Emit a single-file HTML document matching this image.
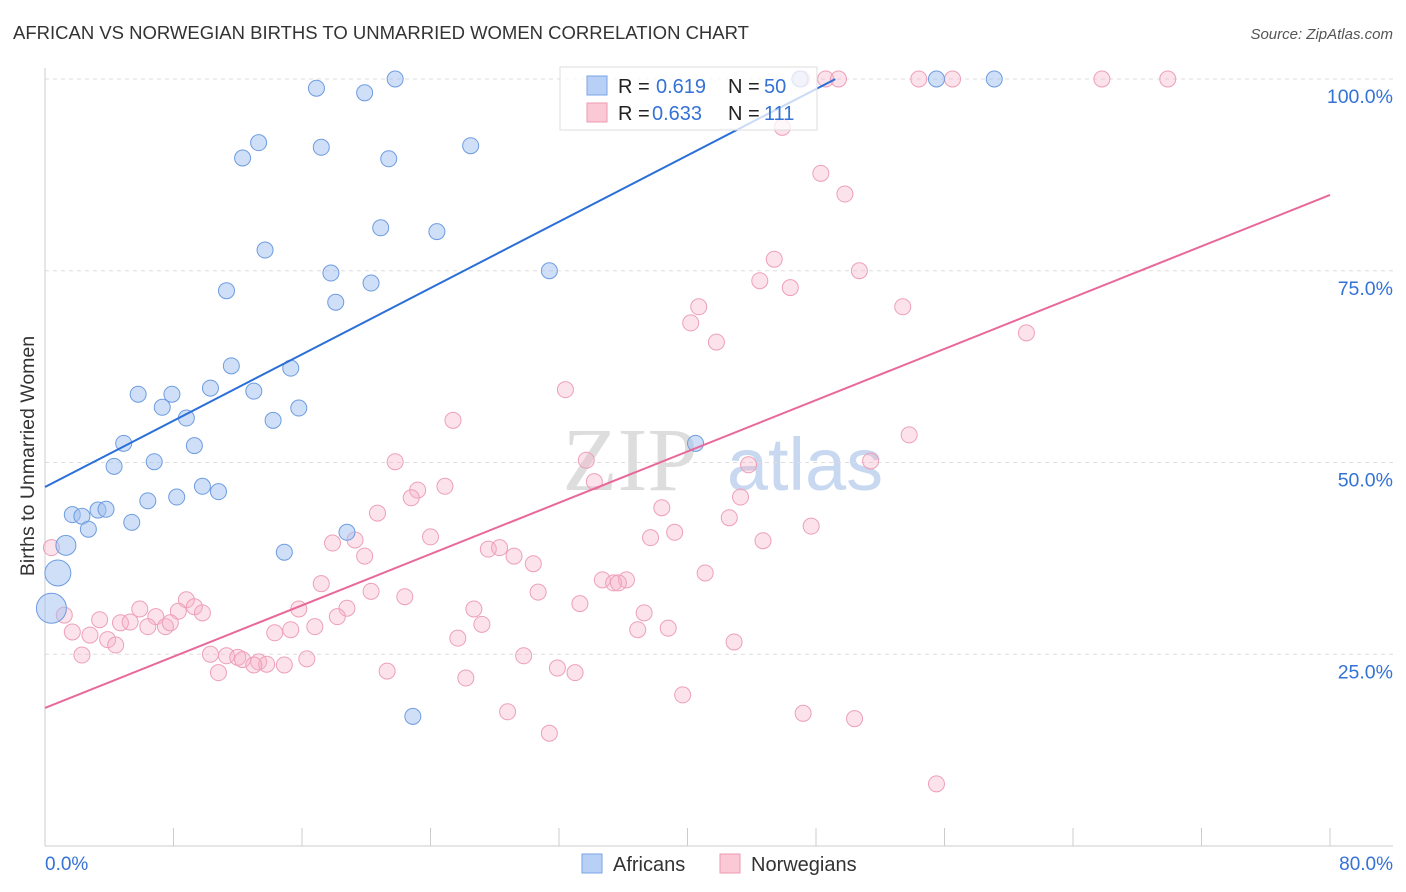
<!DOCTYPE html>
<html><head><meta charset="utf-8">
<style>
body{margin:0;background:#fff;font-family:"Liberation Sans",sans-serif;}
svg{display:block}
</style></head>
<body>
<svg id="chart" width="1406" height="892" xmlns="http://www.w3.org/2000/svg">
<text x="13" y="39" font-size="18.5" fill="#333" font-family="Liberation Sans, sans-serif">AFRICAN VS NORWEGIAN BIRTHS TO UNMARRIED WOMEN CORRELATION CHART</text>
<text x="1393" y="39" font-size="15" fill="#555" text-anchor="end" font-style="italic">Source: ZipAtlas.com</text>
<text transform="translate(34,456) rotate(-90)" font-size="19.5" fill="#333" text-anchor="middle">Births to Unmarried Women</text>
<g font-size="90" text-anchor="middle">
<text x="630" y="490" fill="#ddd" font-family="Liberation Serif, serif">ZIP</text>
<text x="805" y="490" fill="#c8d8f0" font-size="74">atlas</text>
</g>
<g id="grid"></g>
<g id="axes"></g>
<g id="marks"></g>
<g id="lines"></g>
<g>
<rect x="560" y="67" width="257" height="63" fill="#fff" fill-opacity="0.75" stroke="#ddd"/>
<rect x="587" y="76" width="20" height="19" fill="#b8d0f5" stroke="#7aa5e6"/>
<rect x="587" y="103" width="20" height="19" fill="#fbc8d6" stroke="#ee9ab2"/>
<text x="618" y="93" font-size="20" fill="#222">R = </text><text x="656" y="93" font-size="20" fill="#3572d6">0.619</text>
<text x="728" y="93" font-size="20" fill="#222">N = </text><text x="764" y="93" font-size="20" fill="#3572d6">50</text>
<text x="618" y="120" font-size="20" fill="#222">R = </text><text x="652" y="120" font-size="20" fill="#3572d6">0.633</text>
<text x="728" y="120" font-size="20" fill="#222">N = </text><text x="764" y="120" font-size="20" fill="#3572d6">111</text>
</g>
<g>
<rect x="582" y="854" width="20" height="19" fill="#b8d0f5" stroke="#7aa5e6"/>
<text x="613" y="871" font-size="20" fill="#333">Africans</text>
<rect x="720" y="854" width="20" height="19" fill="#fbc8d6" stroke="#ee9ab2"/>
<text x="751" y="871" font-size="20" fill="#333">Norwegians</text>
</g>
</svg>
<script>
const xTicksPct = [0,8,16,24,32,40,48,56,64,72,80];
const yTicksPct = [25,50,75,100];
const yTickLabels = ["25.0%","50.0%","75.0%","100.0%"];
const xEndLabels = ["0.0%","80.0%"];
const africanX = [21.8,16.9,19.9,13.3,12.3,17.2,21.4,26.5,13.7,20.9,24.4,17.8,20.3,11.3,18.1,31.4,11.6,15.3,5.8,7.9,10.3,7.3,8.8,13.0,15.8,14.2,4.9,9.3,6.8,4.3,9.8,10.8,6.4,8.2,1.7,2.3,3.3,3.8,5.4,2.7,1.3,0.8,0.4,14.9,18.8,22.9,40.5,55.5,59.1,47.0];
const africanY = [100,98.8,98.2,91.7,89.7,91.1,89.6,91.3,77.7,80.6,80.1,74.7,73.4,72.4,70.9,75.0,62.6,62.3,58.9,58.9,59.7,57.2,55.8,59.3,57.1,55.5,52.5,52.2,50.1,49.5,46.9,46.2,45.0,45.5,43.2,43.0,43.8,43.9,42.2,41.3,39.2,35.6,31.0,38.3,40.9,16.9,52.5,100,100,100];
const africanSize = {40:10,41:13,42:15};
const norX = [47.1,48.6,49.4,54.4,56.5,65.8,69.9,45.9,48.3,49.8,45.4,44.5,50.7,46.4,40.7,40.2,53.4,41.8,61.1,32.4,25.4,53.8,21.8,33.7,43.8,51.4,24.9,23.2,34.2,22.8,43.3,38.4,42.6,47.7,20.7,39.2,24.0,44.7,37.7,17.9,19.3,27.6,28.3,29.2,30.4,19.9,17.2,20.3,22.4,34.7,36.2,35.4,35.7,41.1,30.7,33.3,37.3,26.7,15.8,18.8,18.2,8.8,9.3,9.8,5.9,8.3,6.9,3.4,4.7,5.3,6.4,7.5,7.8,1.7,2.8,3.9,4.4,2.3,15.3,14.3,16.8,27.2,36.9,38.8,25.7,42.9,10.3,11.3,12.0,12.3,13.3,13.8,13.0,14.9,16.3,10.8,21.3,29.8,31.9,33.0,26.2,39.7,28.8,47.2,50.4,31.4,55.5,1.2,0.4];
const norY = [100,100,100,100,100,100,100,93.7,87.7,85.0,76.5,73.7,75.0,72.8,70.3,68.2,70.3,65.7,66.9,59.5,55.5,53.6,50.1,50.3,49.7,50.2,46.9,46.4,47.5,45.4,45.5,44.1,42.8,41.7,43.4,40.9,40.3,39.8,40.2,39.5,39.9,38.7,38.9,37.8,36.8,37.8,34.2,33.2,32.5,34.7,34.7,34.3,34.3,35.6,33.1,31.6,30.4,30.9,30.9,31.0,29.9,32.1,31.2,30.4,30.9,30.6,29.9,29.5,29.1,29.2,28.6,28.6,29.1,27.9,27.5,26.9,26.2,24.9,28.2,27.8,28.6,28.9,28.2,28.4,27.1,26.6,25.0,24.8,24.6,24.3,24.0,23.7,23.6,23.6,24.4,22.6,22.8,24.8,23.2,22.6,21.9,19.7,17.5,17.3,16.6,14.7,8.1,30.1,38.9];
const norSize = {109:10,110:18};
const africanFit = [46.8,1.081,0,49.2];
const norFit = [18.0,0.836,0,80];

const NS="http://www.w3.org/2000/svg";
const X0=45,X1=1330,Y0=846,Y100=79;
const sx=v=>X0+(X1-X0)*v/80;
const sy=v=>Y0-(Y0-Y100)*v/100;
function mk(tag,attrs,parent){const e=document.createElementNS(NS,tag);for(const k in attrs)e.setAttribute(k,attrs[k]);parent.appendChild(e);return e;}
const grid=document.getElementById('grid'),axes=document.getElementById('axes'),marks=document.getElementById('marks'),lines=document.getElementById('lines');
yTicksPct.forEach((v,i)=>{
  const l=mk('line',{x1:X0,x2:1393,y1:sy(v),y2:sy(v),stroke:'#ddd','stroke-dasharray':'4,4'},grid);
  
  
  const t=mk('text',{x:1393,y:sy(v)+24,'font-size':19.5,fill:'#3572d6','text-anchor':'end'},axes);
  t.textContent=yTickLabels[i];
  
  
});
const ax=mk('line',{x1:X0,x2:1393,y1:Y0,y2:Y0,stroke:'#ccc'},axes);


const ay=mk('line',{x1:X0,x2:X0,y1:68,y2:Y0,stroke:'#ccc'},axes);


xTicksPct.forEach(v=>{
  const t=mk('line',{x1:sx(v),x2:sx(v),y1:828,y2:Y0,stroke:'#ccc'},axes);
  
  
});
[[0,'start',45],[80,'end',1393]].forEach((o,i)=>{
  const t=mk('text',{x:o[2],y:870,'font-size':19,fill:'#3572d6','text-anchor':o[1]},axes);
  t.textContent=xEndLabels[i];
  
  
});
norX.forEach((x,i)=>{
  const c=mk('circle',{cx:sx(x),cy:sy(norY[i]),r:norSize[i]||8,fill:'rgba(246,175,198,0.35)',stroke:'#eda0b8','stroke-width':1},marks);
  
  
});
africanX.forEach((x,i)=>{
  const c=mk('circle',{cx:sx(x),cy:sy(africanY[i]),r:africanSize[i]||8,fill:'rgba(160,192,240,0.5)',stroke:'#6e9ce0','stroke-width':1},marks);
  
  
});
function fit(f,color,name){
  const l=mk('line',{x1:sx(f[2]),y1:sy(f[0]+f[1]*f[2]),x2:sx(f[3]),y2:sy(f[0]+f[1]*f[3]),stroke:color,'stroke-width':2},lines);
  
  
}
fit(africanFit,'#2a6fd8','africans-trend-line');
fit(norFit,'#e8689a','norwegians-trend-line');
</script>
</body></html>
